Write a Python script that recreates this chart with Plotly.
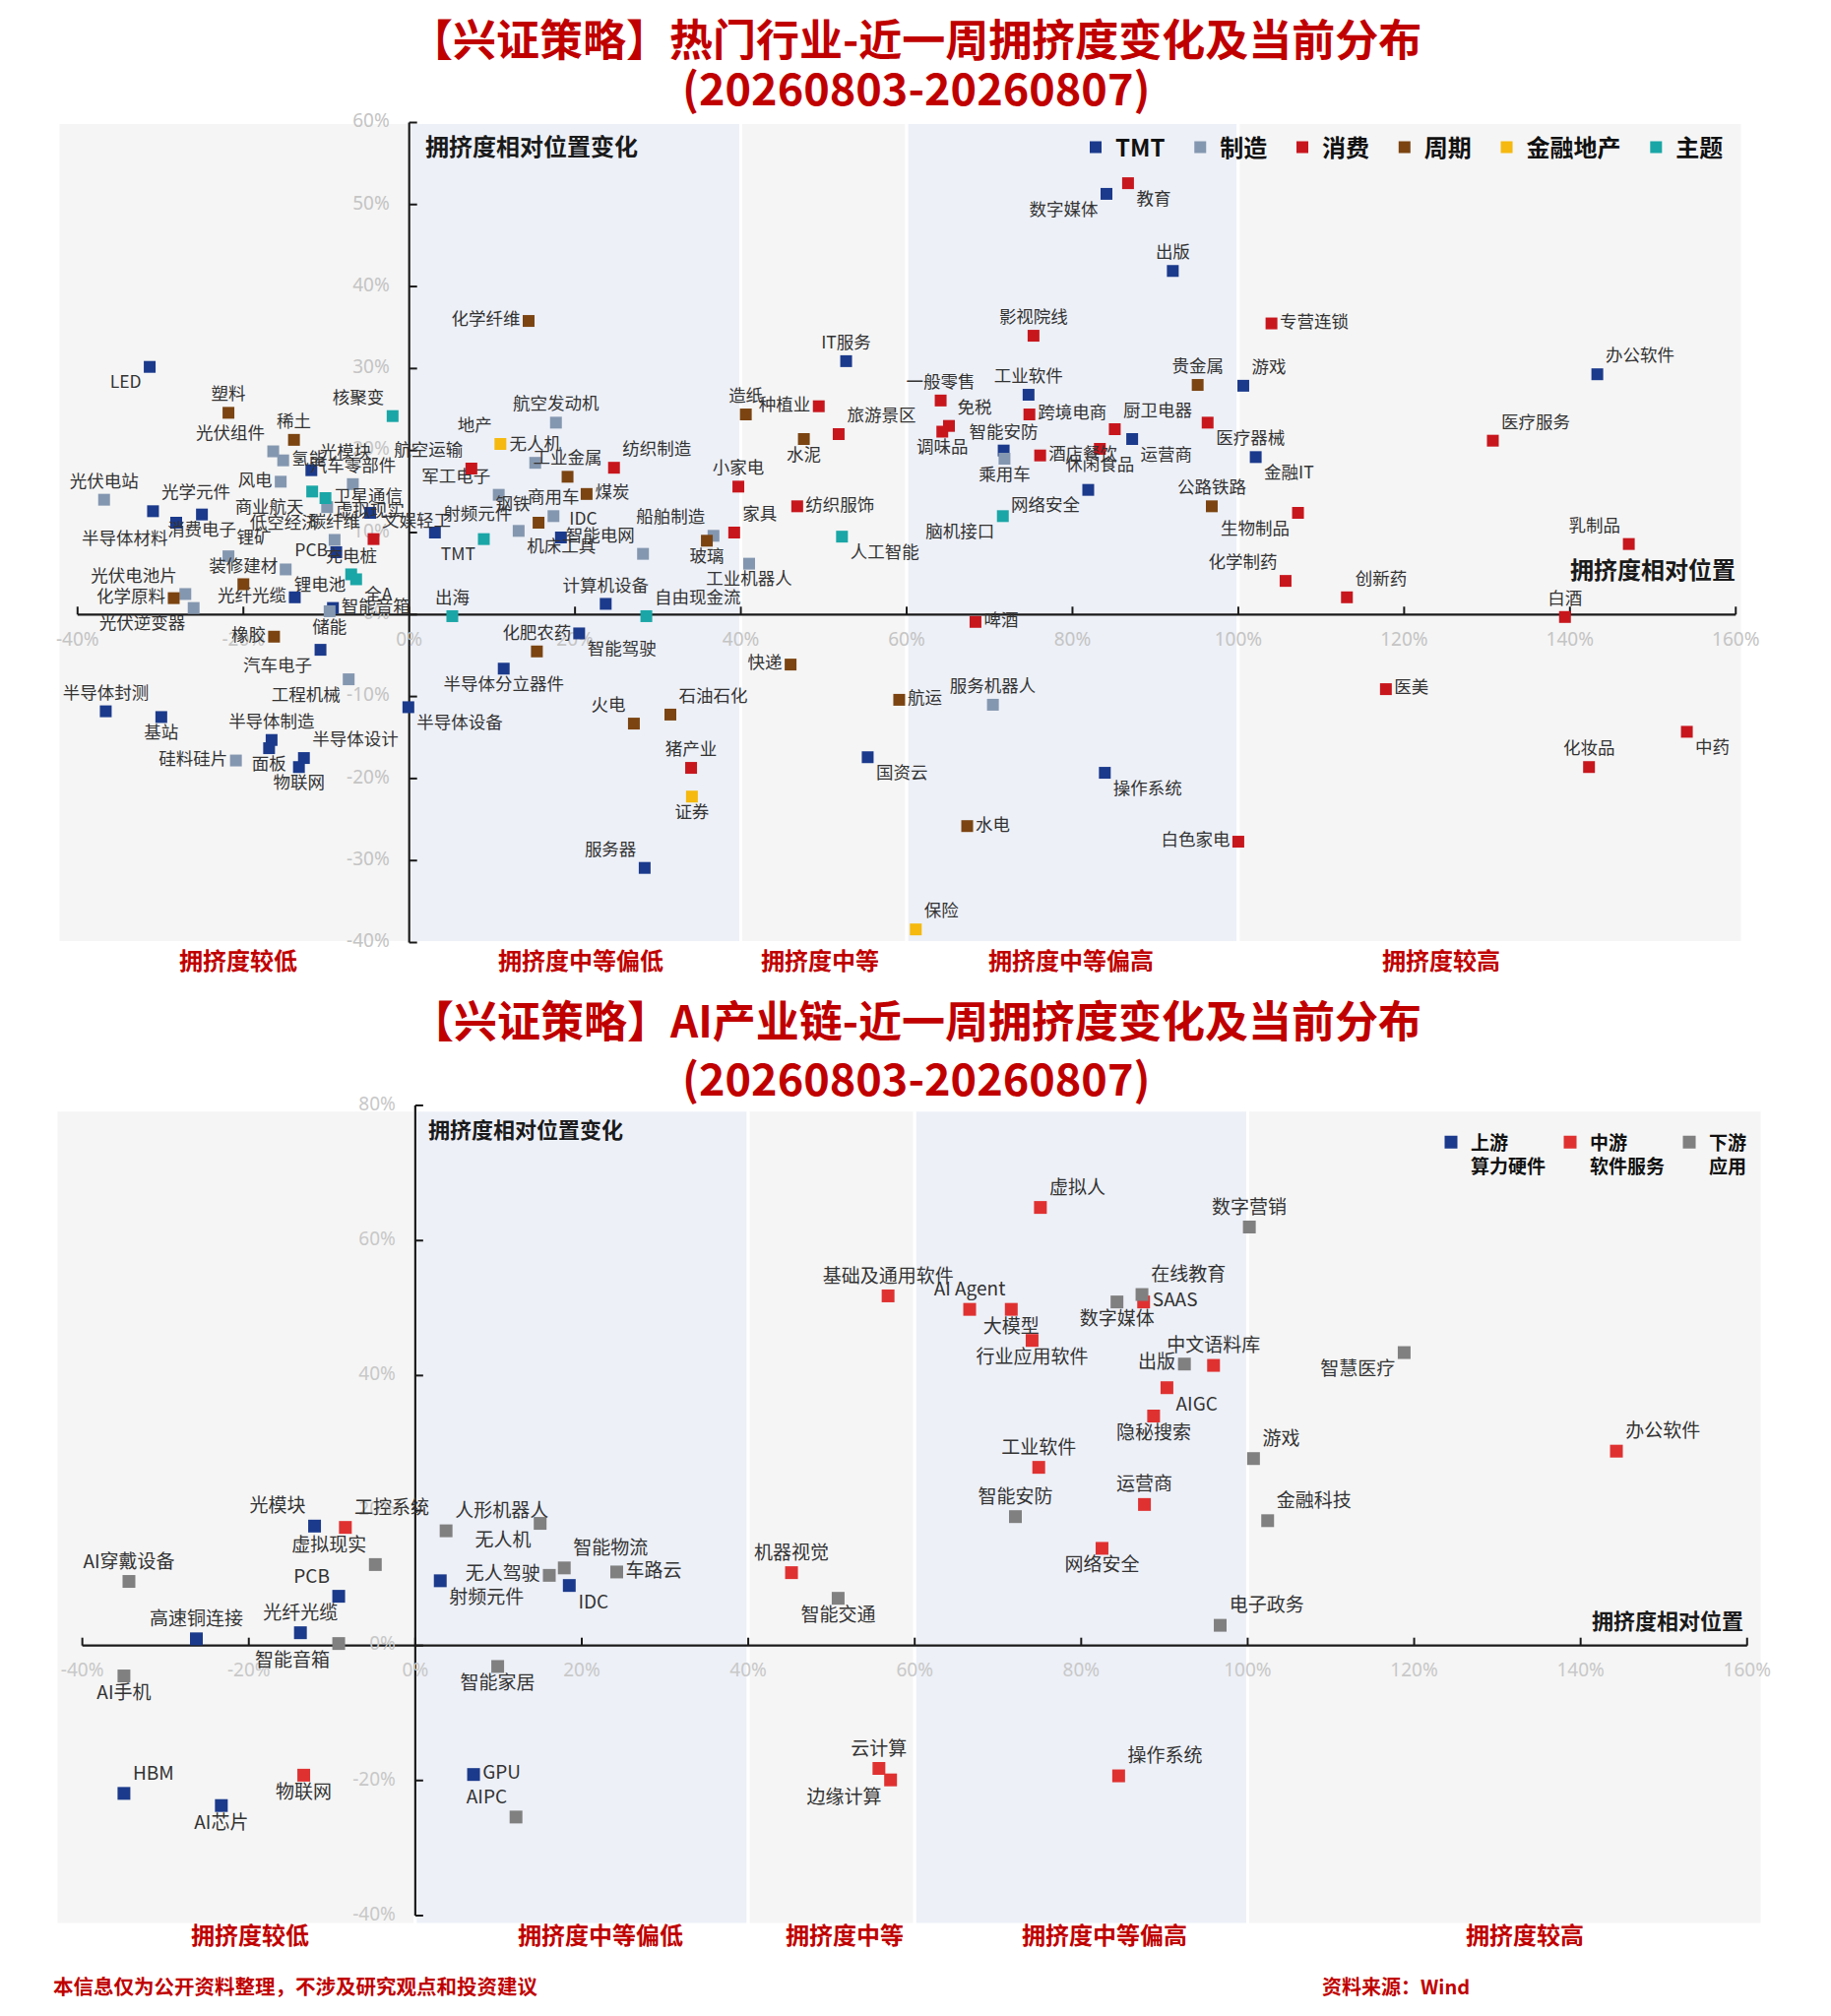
import plotly.graph_objects as go

W, H = 1860, 2048
FONT = "Noto Sans CJK SC"
OFF = 8  # the page body adds an 8px margin; pixel positions are compensated for it

# ================= top chart data: 热门行业 =================
top_groups = ["TMT", "制造", "消费", "周期", "金融地产", "主题"]

tmt_names = ["LED", "光模块", "虚拟现实", "光学元件", "半导体材料", "消费电子", "PCB", "光纤光缆", "智能音箱", "汽车电子",
             "半导体封测", "基站", "半导体制造", "面板", "半导体设计", "物联网", "半导体设备", "射频元件", "IDC", "计算机设备",
             "智能驾驶", "半导体分立器件", "服务器", "IT服务", "国资云", "操作系统", "数字媒体", "出版", "工业软件", "智能安防",
             "运营商", "网络安全", "游戏", "金融IT", "办公软件"]
tmt_x = [-31.3, -11.8, -4.7, -30.9, -28.1, -25.0, -8.8, -13.8, -9.2, -10.7,
         -36.6, -29.9, -16.6, -16.9, -12.7, -13.3, -0.1, 3.1, 18.3, 23.7,
         20.5, 11.4, 28.4, 52.7, 55.3, 83.9, 84.1, 92.1, 74.7, 71.7,
         87.2, 81.9, 100.6, 102.1, 143.3]
tmt_y = [30.2, 17.6, 12.4, 12.6, 11.2, 12.2, 7.6, 2.1, 0.8, -4.3,
         -11.8, -12.5, -15.3, -16.3, -17.5, -18.6, -11.3, 10.0, 9.4, 1.3,
         -2.3, -6.6, -30.9, 30.9, -17.4, -19.3, 51.3, 41.9, 26.8, 20.0,
         21.4, 15.2, 27.9, 19.2, 29.3]

mfg_names = ["光伏组件", "氢能", "风电", "汽车零部件", "低空经济", "碳纤维", "光伏电站", "锂矿", "锂电池", "光伏电池片",
             "光伏逆变器", "储能", "工程机械", "硅料硅片", "航空发动机", "军工电子", "无人机", "商用车", "机床工具", "智能电网",
             "船舶制造", "工业机器人", "乘用车", "服务机器人"]
mfg_x = [-16.4, -15.2, -15.5, -6.8, -9.9, -9.0, -36.8, -21.8, -14.9, -27.0,
         -26.0, -9.6, -7.3, -20.9, 17.7, 10.8, 15.2, 17.4, 13.2, 28.2,
         36.7, 41.0, 71.8, 70.4]
mfg_y = [19.9, 18.8, 16.2, 15.9, 13.1, 9.1, 14.0, 7.1, 5.5, 2.5,
         0.8, 0.4, -7.9, -17.8, 23.4, 14.6, 18.5, 12.0, 10.2, 7.4,
         9.6, 6.2, 19.0, -11.0]

con_names = ["文娱轻工", "航空运输", "纺织制造", "家具", "小家电", "种植业", "旅游景区", "纺织服饰", "猪产业", "啤酒",
             "教育", "影视院线", "专营连锁", "一般零售", "免税", "调味品", "跨境电商", "酒店餐饮", "休闲食品", "厨卫电器",
             "医疗器械", "生物制品", "化学制药", "白色家电", "医疗服务", "乳制品", "创新药", "白酒", "医美", "中药", "化妆品"]
con_x = [-4.3, 7.5, 24.7, 39.2, 39.7, 49.4, 51.8, 46.8, 34.0, 68.3,
         86.7, 75.3, 104.0, 64.1, 65.1, 64.3, 74.8, 76.1, 83.3, 85.1,
         96.3, 107.2, 105.7, 100.0, 130.7, 147.1, 113.1, 139.4, 117.8, 154.1, 142.3]
con_y = [9.2, 17.8, 17.9, 10.0, 15.6, 25.4, 22.0, 13.2, -18.7, -0.9,
         52.6, 34.0, 35.5, 26.1, 23.0, 22.3, 24.4, 19.4, 20.2, 22.6,
         23.4, 12.4, 4.1, -27.7, 21.2, 8.6, 2.1, -0.3, -9.1, -14.3, -18.6]

cyc_names = ["塑料", "稀土", "装修建材", "化学原料", "橡胶", "化学纤维", "工业金属", "煤炭", "钢铁", "玻璃",
             "造纸", "水泥", "化肥农药", "火电", "石油石化", "快递", "航运", "水电", "贵金属", "公路铁路"]
cyc_x = [-21.8, -13.9, -20.0, -28.4, -16.3, 14.4, 19.1, 21.4, 15.6, 35.9,
         40.6, 47.6, 15.4, 27.1, 31.5, 46.0, 59.1, 67.3, 95.1, 96.8]
cyc_y = [24.6, 21.3, 3.7, 2.0, -2.7, 35.8, 16.8, 14.7, 11.2, 9.0,
         24.4, 21.4, -4.5, -13.3, -12.2, -6.1, -10.4, -25.8, 28.0, 13.2]

fin_names = ["地产", "证券", "保险"]
fin_x = [11.0, 34.1, 61.1]
fin_y = [20.8, -22.2, -38.4]

thm_names = ["核聚变", "商业航天", "卫星通信", "充电桩", "全A", "TMT", "出海", "自由现金流", "人工智能", "脑机接口"]
thm_x = [-2.0, -11.7, -10.1, -7.0, -6.4, 9.0, 5.2, 28.6, 52.2, 71.6]
thm_y = [24.2, 15.0, 14.2, 4.9, 4.3, 9.2, -0.2, -0.2, 9.5, 12.0]

top_x_ticks = [-40, -20, 0, 20, 40, 60, 80, 100, 120, 140, 160]
top_y_ticks = [-40, -30, -20, -10, 0, 10, 20, 30, 40, 50, 60]

# ================= bottom chart data: AI产业链 =================
bot_groups = ["上游", "中游", "下游"]
bot_group_sub = ["算力硬件", "软件服务", "应用"]

up_names = ["光模块", "PCB", "高速铜连接", "光纤光缆", "HBM", "AI芯片", "射频元件", "IDC", "GPU"]
up_x = [-12.1, -9.2, -26.3, -13.8, -35.0, -23.3, 3.0, 18.5, 7.0]
up_y = [17.7, 7.3, 1.0, 1.9, -21.9, -23.7, 9.6, 8.9, -19.1]

mid_names = ["工控系统", "物联网", "虚拟人", "基础及通用软件", "AI Agent", "大模型", "行业应用软件", "SAAS", "中文语料库",
             "AIGC", "隐秘搜索", "工业软件", "运营商", "网络安全", "机器视觉", "云计算", "边缘计算", "操作系统", "办公软件"]
mid_x = [-8.4, -13.4, 75.1, 56.8, 66.6, 71.6, 74.1, 87.5, 95.9,
         90.3, 88.7, 74.9, 87.6, 82.5, 45.2, 55.7, 57.1, 84.5, 144.3]
mid_y = [17.5, -19.2, 64.9, 51.8, 49.8, 49.8, 45.2, 50.9, 41.5,
         38.2, 34.0, 26.4, 20.9, 14.4, 10.8, -18.2, -19.9, -19.3, 28.8]

down_names = ["虚拟现实", "AI穿戴设备", "智能音箱", "AI手机", "人形机器人", "无人机", "无人驾驶", "智能物流", "车路云", "智能家居",
              "AIPC", "数字营销", "在线教育", "数字媒体", "出版", "游戏", "智能安防", "金融科技", "智能交通", "电子政务", "智慧医疗"]
down_x = [-4.8, -34.4, -9.2, -35.0, 3.7, 15.0, 16.1, 17.9, 24.2, 9.9,
          12.1, 100.2, 87.3, 84.3, 92.4, 100.7, 72.1, 102.4, 50.8, 96.7, 118.8]
down_y = [12.0, 9.5, 0.3, -4.5, 17.0, 18.1, 10.4, 11.5, 10.9, -3.1,
          -25.4, 62.0, 52.0, 50.9, 41.7, 27.7, 19.1, 18.5, 7.0, 3.0, 43.4]

bot_x_ticks = [-40, -20, 0, 20, 40, 60, 80, 100, 120, 140, 160]
bot_y_ticks = [-40, -20, 0, 20, 40, 60, 80]

# ================= styles / label placement =================
TOP_COLORS = ["#1b3a8c", "#8497b0", "#c8161d", "#7b4411", "#f5b90f", "#1aa6a6"]
BOT_COLORS = ["#1b3a8c", "#e03131", "#808080"]
POSMAP = {"tc": "top center", "bc": "bottom center", "ml": "middle left", "mr": "middle right",
          "tl": "top left", "tr": "top right", "bl": "bottom left", "br": "bottom right", "mc": "middle center"}

TOP_POS = {
    "LED": "bl", "光模块": "tr", "虚拟现实": "mc", "光学元件": "tr", "半导体材料": "bl", "消费电子": "bc", "PCB": "ml",
    "光纤光缆": "ml", "智能音箱": "mr", "汽车电子": "bl", "半导体封测": "tc", "基站": "bc", "半导体制造": "tc", "面板": "bc",
    "半导体设计": "tr", "物联网": "bc", "半导体设备": "br", "射频元件": "tr", "IDC": "tr", "计算机设备": "tc", "智能驾驶": "br",
    "半导体分立器件": "bc", "服务器": "tl", "IT服务": "tc", "国资云": "br", "操作系统": "br", "数字媒体": "bl", "出版": "tc",
    "工业软件": "tc", "智能安防": "tc", "运营商": "br", "网络安全": "bl", "游戏": "tr", "金融IT": "br", "办公软件": "tr",
    "光伏组件": "tl", "氢能": "mr", "风电": "ml", "汽车零部件": "tc", "低空经济": "bl", "碳纤维": "tc", "光伏电站": "tc",
    "锂矿": "tr", "锂电池": "br", "光伏电池片": "tl", "光伏逆变器": "bl", "储能": "bc", "工程机械": "bl", "硅料硅片": "ml",
    "航空发动机": "tc", "军工电子": "tl", "无人机": "tc", "商用车": "tc", "机床工具": "br", "智能电网": "tl", "船舶制造": "tl",
    "工业机器人": "bc", "乘用车": "bc", "服务机器人": "tc",
    "文娱轻工": "tr", "航空运输": "tl", "纺织制造": "tr", "家具": "tr", "小家电": "tc", "种植业": "ml", "旅游景区": "tr",
    "纺织服饰": "mr", "猪产业": "tc", "啤酒": "mr", "教育": "br", "影视院线": "tc", "专营连锁": "mr", "一般零售": "tc",
    "免税": "tr", "调味品": "bc", "跨境电商": "mr", "酒店餐饮": "mr", "休闲食品": "bc", "厨卫电器": "tr", "医疗器械": "br",
    "生物制品": "bl", "化学制药": "tl", "白色家电": "ml", "医疗服务": "tr", "乳制品": "tl", "创新药": "tr", "白酒": "tc",
    "医美": "mr", "中药": "br", "化妆品": "tc",
    "塑料": "tc", "稀土": "tc", "装修建材": "tc", "化学原料": "ml", "橡胶": "ml", "化学纤维": "ml", "工业金属": "tc",
    "煤炭": "mr", "钢铁": "tl", "玻璃": "bc", "造纸": "tc", "水泥": "bc", "化肥农药": "tc", "火电": "tl", "石油石化": "tr",
    "快递": "ml", "航运": "mr", "水电": "mr", "贵金属": "tc", "公路铁路": "tc",
    "地产": "tl", "证券": "bc", "保险": "tr",
    "核聚变": "tl", "商业航天": "bl", "卫星通信": "mr", "充电桩": "tc", "全A": "br", "TMT": "bl", "出海": "tc",
    "自由现金流": "tr", "人工智能": "br", "脑机接口": "bl",
}
BOT_POS = {
    "光模块": "tl", "PCB": "tl", "高速铜连接": "tc", "光纤光缆": "tc", "HBM": "tr", "AI芯片": "bc", "射频元件": "br",
    "IDC": "br", "GPU": "mr",
    "工控系统": "tr", "物联网": "bc", "虚拟人": "tr", "基础及通用软件": "tc", "AI Agent": "tc", "大模型": "bc",
    "行业应用软件": "bc", "SAAS": "mr", "中文语料库": "tc", "AIGC": "br", "隐秘搜索": "bc", "工业软件": "tc", "运营商": "tc",
    "网络安全": "bc", "机器视觉": "tc", "云计算": "tc", "边缘计算": "bl", "操作系统": "tr", "办公软件": "tr",
    "虚拟现实": "tl", "AI穿戴设备": "tc", "智能音箱": "bl", "AI手机": "bc", "人形机器人": "tr", "无人机": "bl",
    "无人驾驶": "ml", "智能物流": "tr", "车路云": "mr", "智能家居": "bc", "AIPC": "tl", "数字营销": "tc", "在线教育": "tr",
    "数字媒体": "bc", "出版": "ml", "游戏": "tr", "智能安防": "tc", "金融科技": "tr", "智能交通": "bc", "电子政务": "tr",
    "智慧医疗": "bl",
}


def px_x(p):
    return (p - OFF) / W


def px_y(p):
    return 1 - (p - OFF) / H


# plot geometry (target pixel positions -> paper)
TOP_XR, TOP_YR = [-42.35, 160.8], [-40.3, 60.2]
TOP_DX, TOP_DY = [px_x(59), px_x(1770)], [px_y(960), px_y(122.8)]
BOT_XR, BOT_YR = [-43.15, 161.8], [-41.4, 80.3]
BOT_DX, BOT_DY = [px_x(57), px_x(1790)], [px_y(1955.6), px_y(1121)]


def ppu(dom, rng, total):
    return (dom[1] - dom[0]) * total / (rng[1] - rng[0])


fig = go.Figure()
shapes = []
annotations = []

GRAY_BAND, BLUE_BAND = "#f5f5f5", "#edf0f7"


def add_frame(xr, yr, xref, yref, band_y, xt, yt, dx, dy, font_size, tick_color):
    px = ppu(dx, xr, W)
    py = ppu(dy, yr, H)
    edges = [xr[0], 0, 40, 60, 100, xr[1]]
    cols = [GRAY_BAND, BLUE_BAND, GRAY_BAND, BLUE_BAND, GRAY_BAND]
    for i, c in enumerate(cols):
        shapes.append(dict(type="rect", xref=xref, yref=yref, x0=edges[i], x1=edges[i + 1],
                           y0=band_y[0], y1=band_y[1], fillcolor=c, line=dict(color="white", width=3),
                           layer="below"))
    axc = "#1a1a1a"
    shapes.append(dict(type="line", xref=xref, yref=yref, x0=xt[0], x1=xt[-1], y0=0, y1=0,
                       line=dict(color=axc, width=2.2), layer="below"))
    shapes.append(dict(type="line", xref=xref, yref=yref, x0=0, x1=0, y0=yt[0], y1=yt[-1],
                       line=dict(color=axc, width=2.2), layer="below"))
    for t in xt:
        shapes.append(dict(type="line", xref=xref, yref=yref, x0=t, x1=t, ysizemode="pixel", yanchor=0,
                           y0=0, y1=8, line=dict(color=axc, width=2), layer="below"))
    for t in yt:
        shapes.append(dict(type="line", xref=xref, yref=yref, y0=t, y1=t, xsizemode="pixel", xanchor=0,
                           x0=0, x1=8, line=dict(color=axc, width=2), layer="below"))
    # tick labels as a text trace beneath the data
    fig.add_trace(go.Scatter(
        x=list(xt) + [-20 / px] * len(yt),
        y=[-27 / py] * len(xt) + list(yt),
        text=[f"{v}%" for v in xt] + [f"{v}%" for v in yt],
        mode="text",
        textposition=["middle center"] * len(xt) + ["middle left"] * len(yt),
        textfont=dict(family="Noto Sans, " + FONT, size=font_size, color=tick_color),
        xaxis=xref, yaxis=yref, showlegend=False, hoverinfo="skip", cliponaxis=False))


add_frame(TOP_XR, TOP_YR, "x", "y", [-40, 60], top_x_ticks, top_y_ticks, TOP_DX, TOP_DY, 19, "#c4c4c4")
add_frame(BOT_XR, BOT_YR, "x2", "y2", [-41.3, 79.3], bot_x_ticks, bot_y_ticks, BOT_DX, BOT_DY, 19, "#c8c8c8")

NB = "\u00a0"
top_series = [(tmt_names, tmt_x, tmt_y), (mfg_names, mfg_x, mfg_y), (con_names, con_x, con_y),
              (cyc_names, cyc_x, cyc_y), (fin_names, fin_x, fin_y), (thm_names, thm_x, thm_y)]
for g, (names, xs, ys), col in zip(top_groups, top_series, TOP_COLORS):
    fig.add_trace(go.Scatter(
        x=xs, y=ys, text=names, mode="markers+text", name=f"<b>{g}</b>{NB * 2}",
        marker=dict(symbol="square", size=12, color=col, line=dict(width=0)),
        textposition=[POSMAP[TOP_POS.get(n, "tc")] for n in names],
        textfont=dict(family=FONT, size=17.5, color="#333333"),
        xaxis="x", yaxis="y", legend="legend", cliponaxis=False, hoverinfo="skip"))

bot_series = [(up_names, up_x, up_y), (mid_names, mid_x, mid_y), (down_names, down_x, down_y)]
for g, sub, (names, xs, ys), col in zip(bot_groups, bot_group_sub, bot_series, BOT_COLORS):
    fig.add_trace(go.Scatter(
        x=xs, y=ys, text=names, mode="markers+text", name=f"<b>{g}<br>{sub}</b>",
        marker=dict(symbol="square", size=13, color=col, line=dict(width=0)),
        textposition=[POSMAP[BOT_POS.get(n, "tc")] for n in names],
        textfont=dict(family=FONT, size=19, color="#333333"),
        xaxis="x2", yaxis="y2", legend="legend2", cliponaxis=False, hoverinfo="skip"))

RED = "#c00000"
YS = 3  # small upward nudge for text boxes
# titles
for txt, ypx, fs in [("【兴证策略】热门行业-近一周拥挤度变化及当前分布", 41, 44), ("(20260803-20260807)", 90, 45),
                     ("【兴证策略】AI产业链-近一周拥挤度变化及当前分布", 1038, 44), ("(20260803-20260807)", 1096, 45)]:
    annotations.append(dict(text=f"<b>{txt}</b>", xref="paper", yref="paper", x=px_x(930), y=px_y(ypx),
                            xanchor="center", yanchor="middle", showarrow=False, yshift=YS,
                            font=dict(family=FONT, size=fs, color=RED)))

# axis titles
annotations += [
    dict(text="<b>拥挤度相对位置变化</b>", xref="x", yref="y", x=1.7, y=56.9, xanchor="left", yanchor="middle",
         showarrow=False, yshift=YS, font=dict(family=FONT, size=24, color="#1a1a1a")),
    dict(text="<b>拥挤度相对位置</b>", xref="x", yref="y", x=160.2, y=5.3, xanchor="right", yanchor="middle",
         showarrow=False, yshift=YS, font=dict(family=FONT, size=24, color="#1a1a1a")),
    dict(text="<b>拥挤度相对位置变化</b>", xref="x2", yref="y2", x=1.3, y=76.2, xanchor="left", yanchor="middle",
         showarrow=False, yshift=YS, font=dict(family=FONT, size=22, color="#1a1a1a")),
    dict(text="<b>拥挤度相对位置</b>", xref="x2", yref="y2", x=159.8, y=3.5, xanchor="right", yanchor="middle",
         showarrow=False, yshift=YS, font=dict(family=FONT, size=22, color="#1a1a1a")),
]

# zone labels
zone_labels = ["拥挤度较低", "拥挤度中等偏低", "拥挤度中等", "拥挤度中等偏高", "拥挤度较高"]
top_zone_x = [-20.6, 20.7, 49.5, 79.8, 124.5]
bot_zone_x = [-19.8, 22.3, 51.6, 82.8, 133.3]
for lab, zx in zip(zone_labels, top_zone_x):
    annotations.append(dict(text=f"<b>{lab}</b>", xref="x", yref="paper", x=zx, y=px_y(977),
                            xanchor="center", yanchor="middle", showarrow=False, yshift=YS,
                            font=dict(family=FONT, size=24, color=RED)))
for lab, zx in zip(zone_labels, bot_zone_x):
    annotations.append(dict(text=f"<b>{lab}</b>", xref="x2", yref="paper", x=zx, y=px_y(1967),
                            xanchor="center", yanchor="middle", showarrow=False, yshift=YS,
                            font=dict(family=FONT, size=24, color=RED)))

# footer
annotations += [
    dict(text="<b>本信息仅为公开资料整理，不涉及研究观点和投资建议</b>", xref="paper", yref="paper",
         x=px_x(52), y=px_y(2020), xanchor="left", yanchor="middle", showarrow=False, yshift=YS,
         font=dict(family=FONT, size=20.5, color=RED)),
    dict(text="<b>资料来源：Wind</b>", xref="paper", yref="paper",
         x=px_x(1341), y=px_y(2020), xanchor="left", yanchor="middle", showarrow=False, yshift=YS,
         font=dict(family=FONT, size=20, color=RED)),
]

axis_common = dict(visible=False, fixedrange=True, showgrid=False, zeroline=False)
fig.update_layout(
    width=W, height=H, margin=dict(l=0, r=0, t=0, b=0),
    paper_bgcolor="white", plot_bgcolor="rgba(0,0,0,0)", hovermode=False,
    xaxis=dict(domain=TOP_DX, range=TOP_XR, anchor="y", **axis_common),
    yaxis=dict(domain=TOP_DY, range=TOP_YR, anchor="x", **axis_common),
    xaxis2=dict(domain=BOT_DX, range=BOT_XR, anchor="y2", **axis_common),
    yaxis2=dict(domain=BOT_DY, range=BOT_YR, anchor="x2", **axis_common),
    shapes=shapes, annotations=annotations,
    legend=dict(orientation="h", x=px_x(1093), y=px_y(150), xanchor="left", yanchor="middle",
                font=dict(family=FONT, size=24, color="#111111"), bgcolor="rgba(0,0,0,0)",
                itemclick=False, itemdoubleclick=False),
    legend2=dict(orientation="h", x=px_x(1454), y=px_y(1173), xanchor="left", yanchor="middle",
                 font=dict(family=FONT, size=19, color="#111111"), bgcolor="rgba(0,0,0,0)",
                 valign="top", itemclick=False, itemdoubleclick=False),
)

fig.write_html("out.html")
